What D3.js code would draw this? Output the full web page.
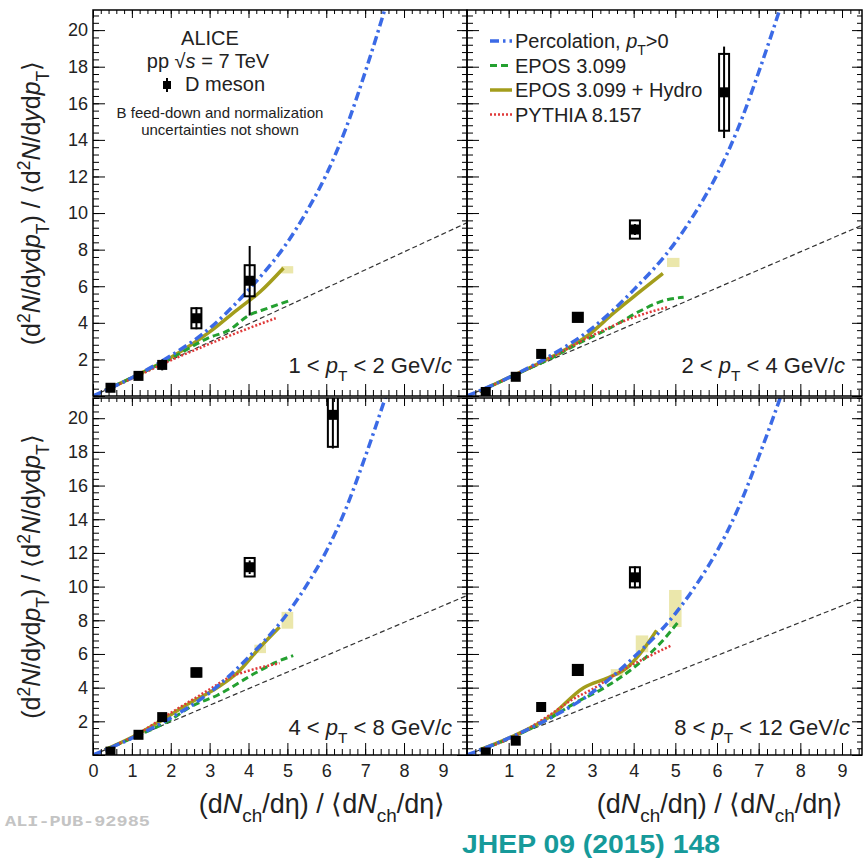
<!DOCTYPE html>
<html lang="en">
<head>
<meta charset="UTF-8">
<title>D meson yield vs multiplicity</title>
<script src="https://cdnjs.cloudflare.com/ajax/libs/d3/7.8.5/d3.min.js"></script>
<style>
  body { margin: 0; background: #fff; }
  svg { display: block; font-family: "Liberation Sans", Arial, sans-serif; }
</style>
</head>
<body>
<svg id="chart" width="865" height="863"></svg>
<script>
// ---- data ----
const ptBins = ["1 < pT < 2", "2 < pT < 4", "4 < pT < 8", "8 < pT < 12"];
const multX = [0.45, 1.17, 1.78, 2.66, 4.03, 6.17];

const dMesonY = [
  [0.45, 1.1, 1.7, 4.25, 6.3, null],
  [0.22, 1.05, 2.3, 4.3, 9.1, 16.6],
  [0.2, 1.2, 2.25, 4.9, 11.15, 20.2],
  [0.15, 0.85, 2.85, 5.05, 10.55, null]
];
const statErr = [
  [0.05, 0.1, 0.3, 0.6, 1.9, 0],
  [0.05, 0.1, 0.1, 0.2, 0.3, 2.5],
  [0.05, 0.1, 0.1, 0.2, 0.4, 2.0],
  [0.05, 0.1, 0.1, 0.2, 0.65, 0]
];
const sysErr = [
  [0.1, 0.1, 0.15, 0.55, 0.85, 0],
  [0.1, 0.1, 0.15, 0.25, 0.5, 2.1],
  [0.1, 0.1, 0.15, 0.25, 0.55, 1.9],
  [0.1, 0.1, 0.15, 0.3, 0.6, 0]
];

// percolation, same curve in every panel
const percX = [0, 1, 2, 3, 4, 5, 5.5, 6, 6.5, 7, 7.3, 7.7];
const percY = [0, 1, 2.2, 3.7, 5.8, 8.4, 10.1, 12.1, 14.6, 17.7, 19.7, 22.5];

const diagX = [0, 9.7];
const diagY = [0, 9.55];

const pythia = [
  [[0.3,0.3],[1,0.95],[2,1.95],[3,2.85],[4,3.7],[4.7,4.25]],
  [[0.3,0.25],[1,1],[2,2.1],[3,3.3],[4,4.3],[4.8,4.85]],
  [[0.3,0.3],[1,1.05],[2,2.5],[3,3.9],[3.5,4.6],[4,5.0],[4.8,5.45]],
  [[0.3,0.3],[1,0.95],[2,2.4],[2.5,3.25],[3,3.9],[3.7,5.0],[4.4,5.9],[4.9,6.5]]
];
const epos = [
  [[0.3,0.3],[1,1],[2,2.05],[3,3.2],[3.5,3.6],[4,4.4],[4.5,4.8],[5.1,5.25]],
  [[0.3,0.25],[1,1],[2,2.05],[2.7,2.9],[3.5,3.8],[4.2,4.7],[4.7,5.2],[5.2,5.4]],
  [[0.3,0.3],[1,1.0],[2,2.1],[2.5,2.85],[3.2,3.55],[4.2,4.9],[4.7,5.5],[5.15,5.9]],
  [[0.3,0.3],[1,0.95],[2,2.2],[2.6,3.1],[3.3,4.0],[4.2,5.6],[4.7,6.8],[5.1,8.0]]
];
const hydro = [
  [[0.3,0.3],[1,1],[2,2.1],[3,3.5],[3.7,4.7],[4.3,5.7],[4.9,7.0]],
  [[0.3,0.25],[1,1],[2,2.1],[2.95,3.4],[3.5,4.5],[4.15,5.7],[4.7,6.7]],
  [[0.3,0.3],[1,1.05],[1.65,1.9],[2.5,3.1],[3.2,4.0],[3.7,4.85],[4.3,6.4],[4.8,7.6]],
  [[0.3,0.3],[1,1.0],[2,2.3],[2.8,4.0],[3.4,4.6],[3.85,5.2],[4.15,6.0],[4.55,7.4]]
];
// hydro uncertainty boxes: [x, y, half height]
const hydroBoxes = [
  [[5.0, 6.9, 0.2]],
  [[4.95, 7.3, 0.25]],
  [[4.3, 6.3, 0.25], [5.0, 8.0, 0.5]],
  [[3.6, 4.9, 0.2], [4.2, 6.6, 0.5], [5.0, 8.7, 1.1]]
];

const yTickLabels = [2, 4, 6, 8, 10, 12, 14, 16, 18, 20];
const xTickLabels = [0, 1, 2, 3, 4, 5, 6, 7, 8, 9];

// ---- layout ----
const layout = [
  { x0: 93,  x1: 467, y0: 10,  y1: 396, xd: [0, 9.62], yd: [0, 21.1], left: true,  bottom: false },
  { x0: 467, x1: 862, y0: 10,  y1: 396, xd: [0, 9.48], yd: [0, 21.1], left: false, bottom: false },
  { x0: 93,  x1: 467, y0: 398, y1: 755, xd: [0, 9.62], yd: [0, 21.2], left: true,  bottom: true },
  { x0: 467, x1: 862, y0: 398, y1: 755, xd: [0, 9.48], yd: [0, 21.2], left: false, bottom: true }
];
const labelPos = [[452, 373], [845, 373], [452, 735], [850, 735]];

const colors = { perc: "#3b6ae6", epos: "#24a030", hydro: "#a39d1c", pythia: "#e03a3a", box: "#e9e4a2" };

const svg = d3.select("#chart");
const defs = svg.append("defs");

// rich text helper: parts = [[text, style]], style: "", "i", "sup", "sub"
function rich(sel, parts, fs) {
  let shift = 0;
  parts.forEach(([t, s]) => {
    const ts = sel.append("tspan").text(t);
    const target = s === "sup" ? -0.4 * fs : s === "sub" ? 0.35 * fs : 0;
    if (target !== shift) { ts.attr("dy", target - shift); shift = target; }
    if (s === "sup" || s === "sub") ts.attr("font-size", 0.7 * fs);
    if (s === "i") ts.attr("font-style", "italic");
  });
}

layout.forEach((L, pi) => {
  const x = d3.scaleLinear().domain(L.xd).range([L.x0, L.x1]);
  const y = d3.scaleLinear().domain(L.yd).range([L.y1, L.y0]);
  const g = svg.append("g");

  defs.append("clipPath").attr("id", "clip" + pi)
    .append("rect").attr("x", L.x0).attr("y", L.y0)
    .attr("width", L.x1 - L.x0).attr("height", L.y1 - L.y0);
  const plot = g.append("g").attr("clip-path", `url(#clip${pi})`);

  const line = d3.line().x(d => x(d[0])).y(d => y(d[1])).curve(d3.curveMonotoneX);

  // diagonal
  plot.append("path")
    .datum(diagX.map((v, i) => [v, diagY[i]]))
    .attr("d", d3.line().x(d => x(d[0])).y(d => y(d[1])))
    .attr("fill", "none").attr("stroke", "#333").attr("stroke-width", 1.2)
    .attr("stroke-dasharray", "5,3");

  // hydro uncertainty boxes
  plot.selectAll(".hb").data(hydroBoxes[pi]).join("rect")
    .attr("x", d => x(d[0] - 0.15)).attr("width", d => x(d[0] + 0.15) - x(d[0] - 0.15))
    .attr("y", d => y(d[1] + d[2])).attr("height", d => y(d[1] - d[2]) - y(d[1] + d[2]))
    .attr("fill", colors.box).attr("opacity", 0.9);

  plot.append("path").datum(hydro[pi]).attr("d", line)
    .attr("fill", "none").attr("stroke", colors.hydro).attr("stroke-width", 3.5);
  plot.append("path").datum(epos[pi]).attr("d", line)
    .attr("fill", "none").attr("stroke", colors.epos).attr("stroke-width", 3)
    .attr("stroke-dasharray", "7,4");
  plot.append("path").datum(pythia[pi]).attr("d", line)
    .attr("fill", "none").attr("stroke", colors.pythia).attr("stroke-width", 2.5)
    .attr("stroke-dasharray", "2,2");
  plot.append("path").datum(percX.map((v, i) => [v, percY[i]])).attr("d", line)
    .attr("fill", "none").attr("stroke", colors.perc).attr("stroke-width", 3.5)
    .attr("stroke-dasharray", "9,4,2.5,4");

  // D meson points
  const pts = multX.map((v, i) => ({ x: v, y: dMesonY[pi][i], st: statErr[pi][i], sy: sysErr[pi][i] }))
    .filter(d => d.y !== null);
  const pg = plot.append("g");
  pg.selectAll(".stat").data(pts).join("line")
    .attr("x1", d => x(d.x)).attr("x2", d => x(d.x))
    .attr("y1", d => y(d.y - d.st)).attr("y2", d => y(d.y + d.st))
    .attr("stroke", "#000").attr("stroke-width", 2);
  pg.selectAll(".sys").data(pts.filter(d => d.sy > 0.2)).join("rect")
    .attr("x", d => x(d.x) - 5).attr("width", 10)
    .attr("y", d => y(d.y + d.sy)).attr("height", d => y(d.y - d.sy) - y(d.y + d.sy))
    .attr("fill", "none").attr("stroke", "#000").attr("stroke-width", 2);
  pg.selectAll(".pt").data(pts).join("rect")
    .attr("x", d => x(d.x) - 5).attr("y", d => y(d.y) - 5)
    .attr("width", 10).attr("height", 10).attr("fill", "#000");

  // axes: ticks on all four sides pointing inwards
  const xMinor = d3.range(0, L.xd[1] + 1e-6, 0.2);
  const yMinor = d3.range(0, L.yd[1] + 1e-6, 0.4);
  const xMajor = d3.range(0, L.xd[1] + 1e-6, 1);
  const yMajor = d3.range(0, L.yd[1] + 1e-6, 2);

  function styleAxis(a) {
    a.select(".domain").remove();
    a.attr("font-family", null).attr("font-size", 18);
    a.selectAll("line").attr("stroke", "#000");
    a.selectAll("text").attr("fill", "#222");
  }

  const bottomFmt = d => (L.bottom && xTickLabels.includes(d) && !(d === 0 && !L.left)) ? d : "";
  g.append("g").attr("transform", `translate(0,${L.y1})`)
    .call(d3.axisBottom(x).tickValues(xMinor).tickSize(-6).tickFormat("")).call(styleAxis);
  g.append("g").attr("transform", `translate(0,${L.y1})`)
    .call(d3.axisBottom(x).tickValues(xMajor).tickSize(-12).tickPadding(9).tickFormat(bottomFmt)).call(styleAxis);
  g.append("g").attr("transform", `translate(0,${L.y0})`)
    .call(d3.axisTop(x).tickValues(xMinor).tickSize(-4).tickFormat("")).call(styleAxis);
  g.append("g").attr("transform", `translate(0,${L.y0})`)
    .call(d3.axisTop(x).tickValues(xMajor).tickSize(-8).tickFormat("")).call(styleAxis);

  const leftFmt = d => (L.left && yTickLabels.includes(d)) ? d : "";
  g.append("g").attr("transform", `translate(${L.x0},0)`)
    .call(d3.axisLeft(y).tickValues(yMinor).tickSize(-6).tickFormat("")).call(styleAxis);
  g.append("g").attr("transform", `translate(${L.x0},0)`)
    .call(d3.axisLeft(y).tickValues(yMajor).tickSize(-12).tickPadding(5).tickFormat(leftFmt)).call(styleAxis);
  g.append("g").attr("transform", `translate(${L.x1},0)`)
    .call(d3.axisRight(y).tickValues(yMinor).tickSize(-5).tickFormat("")).call(styleAxis);
  g.append("g").attr("transform", `translate(${L.x1},0)`)
    .call(d3.axisRight(y).tickValues(yMajor).tickSize(-10).tickFormat("")).call(styleAxis);

  g.append("rect").attr("x", L.x0).attr("y", L.y0)
    .attr("width", L.x1 - L.x0).attr("height", L.y1 - L.y0)
    .attr("fill", "none").attr("stroke", "#000").attr("stroke-width", 1.5);

  // pT bin label
  const [lo, hi] = ptBins[pi].replace("pT", "").split("<").map(s => s.trim()).filter(s => s);
  const t = g.append("text").attr("x", labelPos[pi][0]).attr("y", labelPos[pi][1])
    .attr("text-anchor", "end").attr("font-size", 22).attr("fill", "#222");
  rich(t, [[lo + " < ", ""], ["p", "i"], ["T", "sub"], [" < " + hi + " GeV/", ""], ["c", "i"]], 22);

  // y title for left panels
  if (L.left) {
    const cy = (L.y0 + L.y1) / 2;
    const yt = svg.append("text").attr("transform", `translate(40,${cy}) rotate(-90)`)
      .attr("text-anchor", "middle").attr("font-size", 25).attr("fill", "#222");
    rich(yt, [["(d", ""], ["2", "sup"], ["N", "i"], ["/d", ""], ["y", "i"], ["d", ""], ["p", "i"], ["T", "sub"],
      [") / \u27E8d", ""], ["2", "sup"], ["N", "i"], ["/d", ""], ["y", "i"], ["d", ""], ["p", "i"], ["T", "sub"], ["\u27E9", ""]], 25);
  }
  // x title for bottom panels
  if (L.bottom) {
    const xt = svg.append("text").attr("x", L.left ? 322 : 720).attr("y", 813)
      .attr("text-anchor", "middle").attr("font-size", 27).attr("fill", "#222");
    rich(xt, [["(d", ""], ["N", "i"], ["ch", "sub"], ["/d\u03B7) / \u27E8d", ""], ["N", "i"], ["ch", "sub"], ["/d\u03B7\u27E9", ""]], 27);
  }
});

// ALICE text block
const info = svg.append("g").attr("fill", "#222").attr("text-anchor", "middle");
info.append("text").attr("x", 210).attr("y", 45).attr("font-size", 20).text("ALICE");
const pp = info.append("text").attr("x", 208).attr("y", 68).attr("font-size", 20);
rich(pp, [["pp  \u221A", ""], ["s", "i"], [" = 7 TeV", ""]], 20);
info.append("text").attr("x", 225).attr("y", 91).attr("font-size", 20).text("D meson");
info.append("line").attr("x1", 167).attr("x2", 167).attr("y1", 78).attr("y2", 92)
  .attr("stroke", "#000").attr("stroke-width", 2);
info.append("rect").attr("x", 163).attr("y", 81).attr("width", 8).attr("height", 8).attr("fill", "#000");
info.append("text").attr("x", 220).attr("y", 118).attr("font-size", 15).text("B feed-down and normalization");
info.append("text").attr("x", 220).attr("y", 135).attr("font-size", 15).text("uncertainties not shown");

// legend
const legend = [
  { c: colors.perc, dash: "9,4,2.5,4", w: 3.5, parts: [["Percolation, ", ""], ["p", "i"], ["T", "sub"], [">0", ""]] },
  { c: colors.epos, dash: "7,4", w: 3, parts: [["EPOS 3.099", ""]] },
  { c: colors.hydro, dash: null, w: 3.5, parts: [["EPOS 3.099 + Hydro", ""]] },
  { c: colors.pythia, dash: "2,2", w: 2.5, parts: [["PYTHIA 8.157", ""]] }
];
legend.forEach((e, i) => {
  const yy = 41 + i * 24.5;
  svg.append("line").attr("x1", 490).attr("x2", 512).attr("y1", yy).attr("y2", yy)
    .attr("stroke", e.c).attr("stroke-width", e.w).attr("stroke-dasharray", e.dash);
  const t = svg.append("text").attr("x", 515).attr("y", yy + 7).attr("font-size", 20).attr("fill", "#222");
  rich(t, e.parts, 20);
});

// footer
svg.append("text").attr("x", 5).attr("y", 826).attr("font-family", "Liberation Mono, monospace")
  .attr("font-weight", "bold").attr("font-size", 15).attr("fill", "#c4c4c4")
  .attr("textLength", 145).attr("lengthAdjust", "spacingAndGlyphs").text("ALI-PUB-92985");
svg.append("text").attr("x", 462).attr("y", 853).attr("font-weight", "bold").attr("font-size", 25)
  .attr("fill", "#169a9a").attr("textLength", 258).attr("lengthAdjust", "spacingAndGlyphs")
  .text("JHEP 09 (2015) 148");
</script>
</body>
</html>
